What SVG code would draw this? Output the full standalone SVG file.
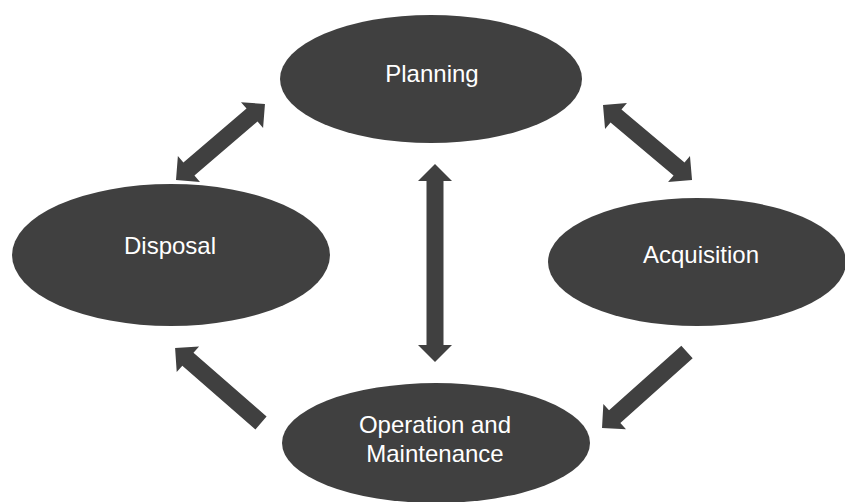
<svg xmlns="http://www.w3.org/2000/svg" width="845" height="502" viewBox="0 0 845 502">
<style>
.node ellipse { fill: #404040; }
.node text { fill: #ffffff; font-family: "Liberation Sans", Arial, sans-serif; font-size: 24px; text-anchor: middle; }
.arrow { fill: #404040; }
</style>
<rect width="845" height="502" fill="#ffffff"/>
<g id="connectors">
  <polygon class="arrow" transform="translate(176,180) rotate(-40.5)" points="0,0 17,-17 17,-8.5 100,-8.5 100,-17 117,0 100,17 100,8.5 17,8.5 17,17"/>
  <polygon class="arrow" transform="translate(603,105) rotate(40.1)" points="0,0 17,-17 17,-8.5 99.4,-8.5 99.4,-17 116.4,0 99.4,17 99.4,8.5 17,8.5 17,17"/>
  <polygon class="arrow" transform="translate(435,164) rotate(90)" points="0,0 17,-17 17,-8.5 181,-8.5 181,-17 198,0 181,17 181,8.5 17,8.5 17,17"/>
  <polygon class="arrow" transform="translate(261,423) rotate(-138.9)" points="0,-8.5 97,-8.5 97,-17 114,0 97,17 97,8.5 0,8.5"/>
  <polygon class="arrow" transform="translate(687,352) rotate(138.2)" points="0,-8.5 97,-8.5 97,-17 114,0 97,17 97,8.5 0,8.5"/>
</g>
<g id="planning" class="node">
  <ellipse cx="431" cy="79" rx="151" ry="64"/>
  <text x="432" y="82">Planning</text>
</g>
<g id="disposal" class="node">
  <ellipse cx="171" cy="255" rx="159" ry="71"/>
  <text x="170" y="254">Disposal</text>
</g>
<g id="acquisition" class="node">
  <ellipse cx="697" cy="262" rx="149" ry="64"/>
  <text x="701" y="263">Acquisition</text>
</g>
<g id="operation" class="node">
  <ellipse cx="436" cy="443" rx="154" ry="60"/>
  <text x="435" y="433">Operation and</text>
  <text x="435" y="462">Maintenance</text>
</g>
</svg>
